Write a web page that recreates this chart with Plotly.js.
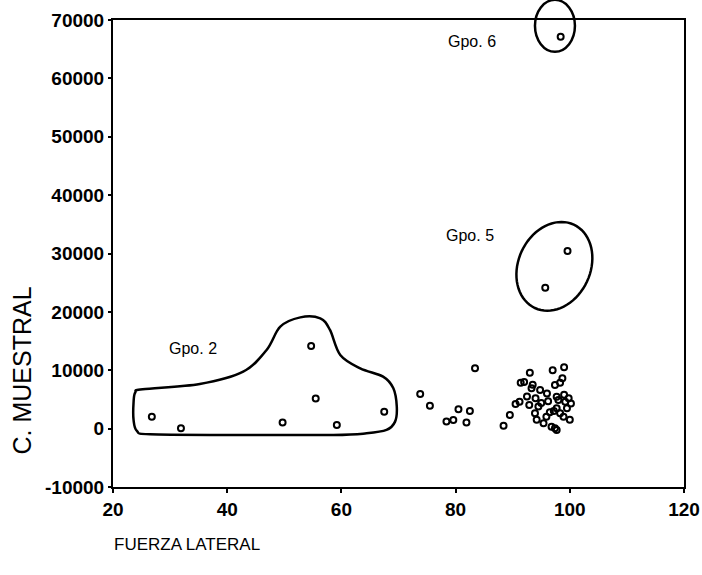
<!DOCTYPE html>
<html><head><meta charset="utf-8">
<script src="https://cdn.plot.ly/plotly-3.0.1.min.js"></script>
<style>html,body{margin:0;padding:0;background:#fff}</style>
</head><body><div id="chart" style="width:702px;height:575px"></div>
<script>
// Data
const fuerzaLateral = [26.8, 31.9, 49.7, 54.7, 55.5, 59.2, 67.5,
  73.8, 75.5, 78.4, 79.6, 80.5, 81.9, 82.5, 83.4,
  88.4, 89.5, 90.5, 91.2, 91.4, 92.0, 92.5, 92.9, 93.0, 93.3,
  93.9, 94.0, 94.5, 94.8, 95.0, 95.4, 95.7, 95.9, 96.0, 96.5,
  96.8, 97.0, 97.4, 97.4, 97.7, 97.7, 97.7, 98.0, 98.3, 98.3,
  98.4, 98.7, 98.9, 99.0, 99.2, 99.5, 99.6, 99.8, 100.0,
  93.5, 96.2, 97.2, 99.0, 94.2, 100.2];
const cMuestral = [2050, 50, 1030, 14160, 5140, 630, 2910,
  5940, 3940, 1200, 1490, 3300, 1030, 3000, 10330,
  510, 2350, 4200, 4620, 7880, 8000, 5500, 4060, 9590, 6900,
  2620, 5200, 3770, 6630, 4400, 910, 24140, 2050, 6000, 2800,
  340, 10000, 50, 7480, 5480, 3480, -220, 4910, 7880, 2620,
  67120, 8610, 2050, 10500, 4620, 3500, 30430, 5200, 1500,
  7500, 4700, 3000, 5800, 1500, 4300];

const xTickVals = [20, 40, 60, 80, 100, 120];
const xTickText = ["20", "40", "60", "80", "100", "120"];
const yTickVals = [-10000, 0, 10000, 20000, 30000, 40000, 50000, 60000, 70000];
const yTickText = ["-10000", "0", "10000", "20000", "30000", "40000", "50000", "60000", "70000"];

const groupLabels = ["Gpo. 2", "Gpo. 5", "Gpo. 6"];
const groupLabelX = [34.0, 82.5, 82.9];
const groupLabelY = [13700, 33050, 66300];

// Outline of group 2 (data units)
const gpo2OutlineX = [25.2, 35.2, 42.8, 46.9, 49.3, 52.8, 56.3, 58.0, 59.8, 63.3, 67.3, 69.1, 69.7, 69.4, 67.9, 64.4, 58.6, 41.1, 26.5, 24.2, 23.6, 23.6, 23.9];
const gpo2OutlineY = [6750, 7650, 9760, 13480, 17470, 19060, 18890, 16900, 12620, 10330, 8900, 6900, 3770, 1200, -220, -800, -1080, -1080, -980, -400, 1500, 4500, 6200];

const xRange = [20, 120];
const yRange = [-10000, 70000];
const plotW = 571, plotH = 467;

function catmullClosed(xs, ys) {
  const n = xs.length;
  let d = `M${xs[0]},${ys[0]}`;
  for (let i = 0; i < n; i++) {
    const i0 = (i - 1 + n) % n, i1 = i, i2 = (i + 1) % n, i3 = (i + 2) % n;
    const c1x = xs[i1] + (xs[i2] - xs[i0]) / 6, c1y = ys[i1] + (ys[i2] - ys[i0]) / 6;
    const c2x = xs[i2] - (xs[i3] - xs[i1]) / 6, c2y = ys[i2] - (ys[i3] - ys[i1]) / 6;
    d += ` C${c1x},${c1y} ${c2x},${c2y} ${xs[i2]},${ys[i2]}`;
  }
  return d + ' Z';
}

// tilted ellipse for group 5 (center in data units, radii in pixels)
function tiltedEllipse(cx, cy, aPx, bPx, angDeg) {
  const pxX = plotW / (xRange[1] - xRange[0]);
  const pxY = plotH / (yRange[1] - yRange[0]);
  const t = angDeg * Math.PI / 180;
  let d = '';
  for (let k = 0; k <= 72; k++) {
    const u = 2 * Math.PI * k / 72;
    const ex = aPx * Math.cos(u), ey = bPx * Math.sin(u);
    const dx = ex * Math.cos(t) - ey * Math.sin(t);
    const dy = ex * Math.sin(t) + ey * Math.cos(t);
    const x = cx + dx / pxX, y = cy + dy / pxY;
    d += (k === 0 ? 'M' : ' L') + x + ',' + y;
  }
  return d + ' Z';
}

const toPaperX = x => (x - xRange[0]) / (xRange[1] - xRange[0]);
const toPaperY = y => (y - yRange[0]) / (yRange[1] - yRange[0]);

const gpo6 = {cx: 97.4, cy: 69000, rx: 3.5, ry: 4450};

const trace = {
  x: fuerzaLateral, y: cMuestral, type: 'scatter', mode: 'markers',
  marker: {symbol: 'circle-open', size: 6, color: '#000', line: {width: 2, color: '#000'}},
  cliponaxis: false, hoverinfo: 'x+y'
};

const fontFam = 'Arial, "Liberation Sans", sans-serif';

const layout = {
  width: 702, height: 575,
  margin: {l: 113, r: 18, t: 20, b: 88},
  paper_bgcolor: '#fff', plot_bgcolor: '#fff',
  showlegend: false,
  xaxis: {
    range: xRange, tickmode: 'array', tickvals: xTickVals, ticktext: xTickText,
    showgrid: false, zeroline: false,
    showline: true, linecolor: '#000', linewidth: 2, mirror: true,
    ticks: 'outside', ticklen: 4, tickwidth: 2, tickcolor: '#000',
    tickfont: {family: fontFam, size: 19, color: '#000', weight: 'bold'}
  },
  yaxis: {
    range: yRange, tickmode: 'array', tickvals: yTickVals, ticktext: yTickText,
    showgrid: false, zeroline: false,
    showline: true, linecolor: '#000', linewidth: 2, mirror: true,
    ticks: 'outside', ticklen: 3, tickwidth: 2, tickcolor: '#000',
    tickfont: {family: fontFam, size: 19, color: '#000', weight: 'bold'}
  },
  shapes: [
    {type: 'path', xref: 'x', yref: 'y', path: catmullClosed(gpo2OutlineX, gpo2OutlineY),
      line: {color: '#000', width: 2.5}, fillcolor: 'rgba(0,0,0,0)'},
    {type: 'path', xref: 'x', yref: 'y', path: tiltedEllipse(97.3, 27800, 46, 36, 65),
      line: {color: '#000', width: 2.5}, fillcolor: 'rgba(0,0,0,0)'},
    {type: 'circle', xref: 'paper', yref: 'paper',
      x0: toPaperX(gpo6.cx - gpo6.rx), x1: toPaperX(gpo6.cx + gpo6.rx),
      y0: toPaperY(gpo6.cy - gpo6.ry), y1: toPaperY(gpo6.cy + gpo6.ry),
      line: {color: '#000', width: 2.5}, fillcolor: 'rgba(0,0,0,0)'}
  ],
  annotations: groupLabels.map((t, i) => ({
    text: t, x: groupLabelX[i], y: groupLabelY[i], xref: 'x', yref: 'y',
    showarrow: false, xanchor: 'center', yanchor: 'middle',
    font: {family: fontFam, size: 16, color: '#000'}
  })).concat([
    {text: 'C. MUESTRAL', xref: 'paper', yref: 'paper', x: -0.159, y: 0.25,
      textangle: -90, showarrow: false, xanchor: 'center', yanchor: 'middle',
      font: {family: fontFam, size: 25, color: '#000'}},
    {text: 'FUERZA LATERAL', xref: 'paper', yref: 'paper', x: -0.002, y: -0.124,
      showarrow: false, xanchor: 'left', yanchor: 'middle',
      font: {family: fontFam, size: 17, color: '#000'}}
  ])
};

Plotly.newPlot('chart', [trace], layout, {displayModeBar: false, staticPlot: true});
</script>
</body></html>
